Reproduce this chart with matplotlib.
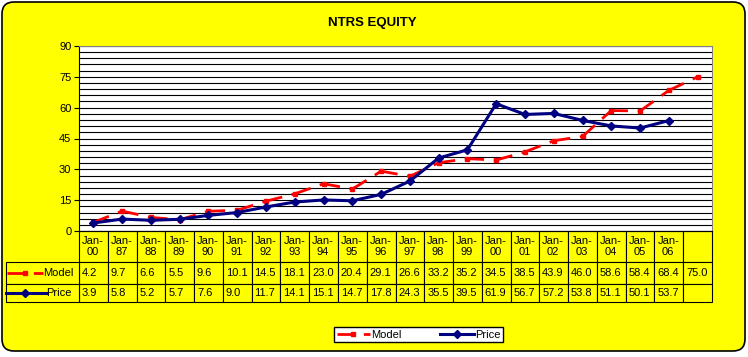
import numpy as np
import matplotlib
matplotlib.use("Agg")
import matplotlib.pyplot as plt
from matplotlib.lines import Line2D
from matplotlib.patches import FancyBboxPatch, Rectangle
from matplotlib.transforms import blended_transform_factory

plt.rcParams['font.family'] = ['Liberation Sans', 'DejaVu Sans']

# data
years = ["00", "87", "88", "89", "90", "91", "92", "93", "94", "95", "96",
         "97", "98", "99", "00", "01", "02", "03", "04", "05", "06"]
col_labels = ["Jan-\n" + y for y in years] + [""]
model = [4.2, 9.7, 6.6, 5.5, 9.6, 10.1, 14.5, 18.1, 23.0, 20.4, 29.1,
         26.6, 33.2, 35.2, 34.5, 38.5, 43.9, 46.0, 58.6, 58.4, 68.4, 75.0]
price = [3.9, 5.8, 5.2, 5.7, 7.6, 9.0, 11.7, 14.1, 15.1, 14.7, 17.8,
         24.3, 35.5, 39.5, 61.9, 56.7, 57.2, 53.8, 51.1, 50.1, 53.7, np.nan]

YELLOW = '#FFFF00'
RED = '#FF0000'
NAVY = '#000080'
W, H = 748, 357

fig = plt.figure(figsize=(W / 100, H / 100), dpi=100)
fig.patch.set_facecolor('white')

# rounded yellow chart area
bg = FancyBboxPatch((2, 6), 743, 349, boxstyle="round,pad=0,rounding_size=12",
                    transform=None, facecolor=YELLOW, edgecolor='black', lw=1.2, zorder=-10)
fig.patches.append(bg)

# plot area
ax_l, ax_r, ax_t, ax_b = 79, 712, 46, 231
ax = fig.add_axes([ax_l / W, 1 - ax_b / H, (ax_r - ax_l) / W, (ax_b - ax_t) / H])
ax.set_facecolor('white')

n = len(model)
x = np.arange(n)
dash = (0, (6, 3.5))

# model: Excel restarts the dash pattern at every point
for i in range(n - 1):
    ax.plot(x[i:i + 2], model[i:i + 2], color=RED, lw=2, linestyle=dash,
            dash_capstyle='butt', zorder=3)
ax.plot(x, model, linestyle='none', marker='s', ms=3.5, color=RED, zorder=4)
ax.plot(x, price, color=NAVY, lw=2.2, marker='D', ms=4.5, zorder=5)

ax.set_xlim(-0.5, n - 0.5)
ax.set_ylim(0, 90)
ax.set_xticks([])
ax.set_yticks(np.arange(0, 91, 15))
ax.set_yticks(np.arange(0, 91, 3), minor=True)
ax.grid(True, which='both', axis='y', color='black', lw=0.8)
ax.tick_params(axis='y', which='major', length=3.5, width=0.8, pad=2, labelsize=8)
ax.tick_params(axis='y', which='minor', length=0)
for s in ['top', 'right']:
    ax.spines[s].set_color('#808080')
    ax.spines[s].set_linewidth(0.8)
ax.spines['left'].set_color('black')
ax.spines['left'].set_linewidth(0.8)
ax.spines['bottom'].set_color('black')
ax.spines['bottom'].set_linewidth(0.8)

# data table under the plot: x follows the data columns, y in axes fraction
ax_h = ax_b - ax_t
hdr_h, row_h1, row_h2 = 31, 22, 18
tr = blended_transform_factory(ax.transData, ax.transAxes)
y_hdr = -hdr_h / ax_h
y_m = y_hdr - row_h1 / ax_h
y_p = y_m - row_h2 / ax_h
lab_x0 = (6 - ax_l) / (ax_r - ax_l)


def cell(x0, y0, w, h, text, trans, ha='left', pad=0.1):
    ax.add_patch(Rectangle((x0, y0), w, h, transform=trans, facecolor=YELLOW,
                           edgecolor='black', lw=0.8, clip_on=False, zorder=1))
    if text:
        tx = x0 + pad if ha == 'left' else x0 + w - pad
        ax.text(tx, y0 + h / 2, text, transform=trans, ha=ha, va='center',
                fontsize=8, clip_on=False, linespacing=1.15,
                multialignment='center')


for j, lab in enumerate(col_labels):
    cell(x[j] - 0.5, y_hdr, 1, -y_hdr, lab, tr, pad=0.1)
    cell(x[j] - 0.5, y_m, 1, y_hdr - y_m, f"{model[j]:.1f}", tr, pad=0.1)
    pv = "" if np.isnan(price[j]) else f"{price[j]:.1f}"
    cell(x[j] - 0.5, y_p, 1, y_m - y_p, pv, tr, pad=0.1)
cell(lab_x0, y_m, -lab_x0, y_hdr - y_m, "Model", ax.transAxes, ha='right', pad=0.008)
cell(lab_x0, y_p, -lab_x0, y_m - y_p, "Price", ax.transAxes, ha='right', pad=0.012)

# legend keys inside the row-label cells
ym = 1 - (ax_b + hdr_h + row_h1 / 2) / H
yp = 1 - (ax_b + hdr_h + row_h1 + row_h2 / 2) / H
kx = np.array([7, 25, 43]) / W
fig.add_artist(Line2D(kx, [ym] * 3, color=RED, lw=2, linestyle=dash, marker='s',
                      ms=3.5, markevery=[1], transform=fig.transFigure))
fig.add_artist(Line2D(np.array([6, 25, 46]) / W, [yp] * 3, color=NAVY, lw=2.2,
                      marker='D', ms=4.5, markevery=[1], transform=fig.transFigure))

# title
fig.text(372 / W, 1 - 23 / H, "NTRS EQUITY", ha='center', va='center',
         fontsize=9.5, fontweight='bold')

# legend box
h_model = Line2D([], [], color=RED, lw=2, linestyle=dash, marker='s', ms=3.5)
h_price = Line2D([], [], color=NAVY, lw=2.2, marker='D', ms=4.5)
fig.legend([h_model, h_price], ["Model", "Price"], loc='center',
           bbox_to_anchor=(418.5 / W, 1 - 334.5 / H), ncol=2, fontsize=8,
           frameon=True, fancybox=False, edgecolor='black', facecolor='white',
           framealpha=1, handlelength=3.0, handletextpad=0.1, columnspacing=3.5,
           borderpad=0.25)

fig.savefig("out.png", dpi=100, facecolor=fig.get_facecolor())
